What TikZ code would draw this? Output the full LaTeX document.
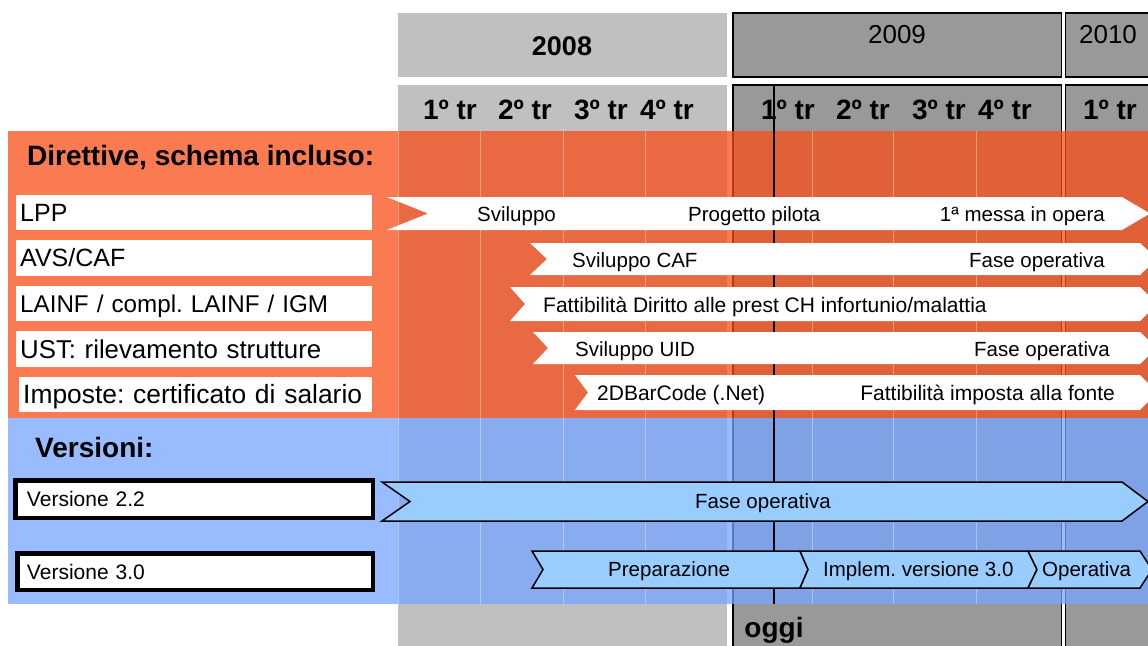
\documentclass[tikz,border=0pt]{standalone}
\usepackage{fontspec}
\setmainfont{Liberation Sans}
\definecolor{hdlight}{RGB}{192,192,192}
\definecolor{hddark}{RGB}{153,153,153}
\definecolor{orng}{RGB}{248,78,24}
\definecolor{blu}{RGB}{119,164,255}
\definecolor{barblue}{RGB}{153,204,255}
% x1, x2, ytop, ybot, notch depth, tip x
\newcommand\chevpath[6]{(#1,#3) -- (#2,#3) -- (#6,{(#3+#4)/2}) -- (#2,#4) -- (#1,#4) -- ({#1+#5},{(#3+#4)/2}) -- cycle}
\newcommand\fsz[1]{\fontsize{#1}{#1}\selectfont}
\begin{document}
\frenchspacing
\begin{tikzpicture}[x=1pt,y=-1pt,
  colbox/.style={draw=black, line width=1.5, fill=hddark},
  yeartext/.style={inner sep=0, text depth=0, text height=18.6, font=\fsz{26}},
  qtrtext/.style={inner sep=0, text depth=0, text height=20, font=\bfseries\fsz{28}},
  headtext/.style={inner sep=0, text depth=0, text height=20, anchor=west, font=\bfseries\fsz{28}},
  tint/.style={fill opacity=0.75},
  gridline/.style={draw=white, draw opacity=0.35, line width=1},
  todayline/.style={draw=black, line width=2.6},
  lblbox/.style={fill=white, anchor=west, inner xsep=4, inner ysep=0, align=left, minimum height=35, text height=17.9, text depth=0, font=\fsz{25}},
  verbox/.style={draw=black, fill=white, line width=4.5, outer sep=0, anchor=west, inner ysep=0, align=left, text height=15, text depth=0, font=\fsz{21}},
  whitebar/.style={fill=white},
  bluebar/.style={fill=barblue, draw=black, line width=1.5, line join=miter},
  bartext/.style={inner sep=0, text depth=0, text height=14.7, font=\fsz{20.5}},
]
\useasboundingbox (0,0) rectangle (1148,645);
\clip (0,0) rectangle (1148,645);

% ---- header year boxes
\fill[hdlight] (398,13) rectangle (727,77);
\draw[colbox] (733,13) rectangle (1061.5,77);
\draw[colbox] (1065.5,13) rectangle (1160,77);

% ---- quarter columns (run down to the bottom)
\fill[hdlight] (398,85) rectangle (727,660);
\draw[colbox] (733,85) rectangle (1061.5,660);
\draw[colbox] (1065.5,85) rectangle (1160,660);

\node[yeartext, text height=19.3, font=\bfseries\fsz{27}] (y2008) at (562,46) {2008};
\node[yeartext] (y2009) at (897,34) {2009};
\node[yeartext] (y2010) at (1108,34) {2010};

\node[qtrtext] (q08a) at (450,109) {1º tr};
\node[qtrtext] (q08b) at (525,109) {2º tr};
\node[qtrtext] (q08c) at (601,109) {3º tr};
\node[qtrtext] (q08d) at (667,109) {4º tr};
\node[qtrtext] (q09a) at (788,109) {1º tr};
\node[qtrtext] (q09b) at (863,109) {2º tr};
\node[qtrtext] (q09c) at (939,109) {3º tr};
\node[qtrtext] (q09d) at (1005,109) {4º tr};
\node[qtrtext] (q10a) at (1110,109) {1º tr};

% ---- coloured sections
\fill[orng, tint] (8,131) rectangle (1160,418);
\fill[blu, tint] (8,418) rectangle (1160,604);

\foreach \x in {398,480,563,645,812,893,976}
  \draw[gridline] (\x,131) -- (\x,604);

% ---- today line
\coordinate (oggiTop) at (774,85);
\coordinate (oggiBot) at (774,604);
\draw[todayline] (oggiTop) -- (oggiBot);
\node[anchor=base, inner sep=0, font=\bfseries\fsz{28}] (oggi) at (774,637) {oggi};

% ---- section headings
\node[headtext] (hdir) at (27,155.5) {Direttive, schema incluso:};
\node[headtext] (hver) at (35,447) {Versioni:};

% ---- left labels
\node[lblbox, text width=348] (lpp) at (16,212.5) {LPP};
\node[lblbox, text width=348, minimum height=36] (avs) at (16,258) {AVS/CAF};
\node[lblbox, text width=348, font=\fsz{24.2}, text height=17.3] (lainf) at (16,303.5) {LAINF / compl. LAINF / IGM};
\node[lblbox, text width=348, minimum height=36, font=\fsz{25.8}, text height=18.5] (ust) at (16,349) {UST: rilevamento strutture};
\node[lblbox, text width=345, font=\fsz{26.4}, text height=18.9] (imp) at (19,394.5) {Imposte: certificato di salario};

\node[verbox, inner xsep=11.75, text width=334, minimum height=37.5] (v22) at (15.25,499) {Versione 2.2};
\node[verbox, inner xsep=9.75, text width=336, minimum height=36.5] (v30) at (17.25,571.5) {Versione 3.0};

% ---- white bars
\fill[whitebar] \chevpath{387}{1122}{197}{230}{41}{1150};
\fill[whitebar] \chevpath{530}{1140}{243}{275}{17}{1157};
\fill[whitebar] \chevpath{510}{1140}{287}{321}{15}{1157};
\fill[whitebar] \chevpath{533}{1140}{332}{364}{15}{1157};
\fill[whitebar] \chevpath{575}{1140}{375}{410}{13}{1157};

\node[bartext, anchor=west] (lppA) at (477,214.5) {Sviluppo};
\node[bartext, anchor=west] (lppB) at (688,214.5) {Progetto pilota};
\node[bartext, anchor=east] (lppC) at (1105,214.5) {1ª messa in opera};
\node[bartext, anchor=west] (avsA) at (572,260) {Sviluppo CAF};
\node[bartext, anchor=east] (avsB) at (1105,260) {Fase operativa};
\node[bartext, anchor=west, font=\fsz{21}, text height=15] (lainfA) at (543,305) {Fattibilità Diritto alle prest CH infortunio/malattia};
\node[bartext, anchor=west] (ustA) at (575,349) {Sviluppo UID};
\node[bartext, anchor=east] (ustB) at (1110,349) {Fase operativa};
\node[bartext, anchor=west, font=\fsz{21}, text height=15] (impA) at (597,393) {2DBarCode (.Net)};
\node[bartext, anchor=east, font=\fsz{21}, text height=15] (impB) at (1115,393) {Fattibilità imposta alla fonte};

% ---- blue bars
\draw[bluebar] \chevpath{382}{1122}{482}{521}{28}{1148};
\draw[bluebar] \chevpath{532}{800}{551}{588}{11}{808};
\draw[bluebar] \chevpath{800}{1028}{551}{588}{8}{1037};
\draw[bluebar] \chevpath{1028}{1140}{551}{588}{9}{1152};

\node[bartext, anchor=west] (v22A) at (695,501.5) {Fase operativa};
\node[bartext, anchor=west] (v30A) at (608,569.5) {Preparazione};
\node[bartext, anchor=west] (v30B) at (823,569.5) {Implem. versione 3.0};
\node[bartext, anchor=west] (v30C) at (1042,569.5) {Operativa};
\end{tikzpicture}
\end{document}
